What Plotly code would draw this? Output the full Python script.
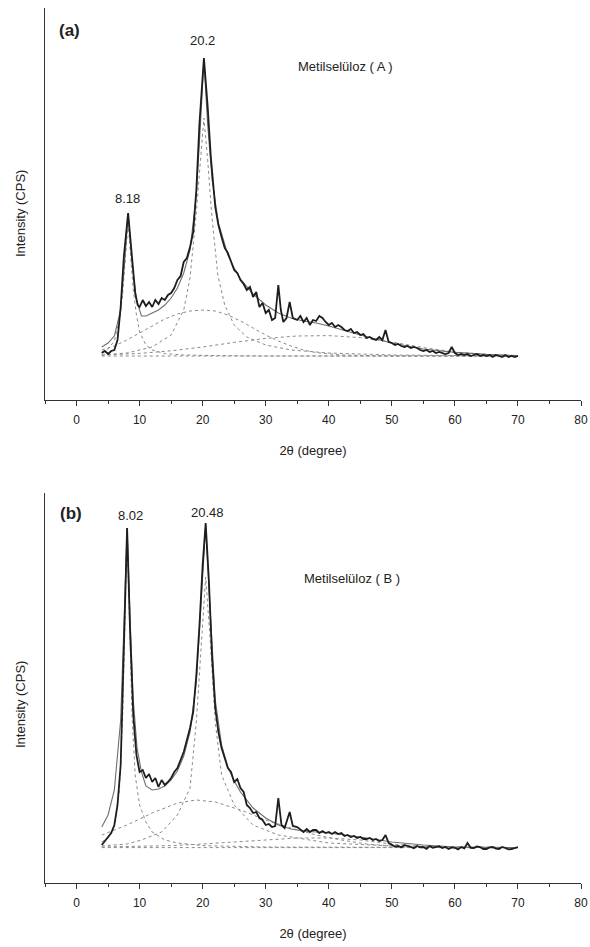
import plotly.graph_objects as go

# ---- panel (a): Metilselüloz (A) -------------------------------------------
a_x = [4, 4.5, 5, 5.5, 6, 6.5, 7, 7.5, 8.18, 8.8, 9.3, 9.7, 10, 10.5, 11, 11.5, 12, 12.5, 13, 13.5,
       14, 14.5, 15, 15.5, 16, 16.5, 17, 17.5, 18, 18.5, 19, 19.5, 20.2, 20.8, 21.3, 22, 22.5, 23, 23.5,
       24, 24.5, 25, 25.5, 26, 26.5, 27, 27.5, 28, 28.5, 29, 29.5, 30, 30.5, 31, 31.5, 32, 32.4, 32.8,
       33.3, 33.8, 34.3, 35, 35.5, 36, 36.5, 37, 37.5, 38, 38.5, 39, 39.5, 40, 40.5, 41, 41.5, 42, 42.5,
       43, 43.5, 44, 44.5, 45, 45.5, 46, 46.5, 47, 47.5, 48, 48.5, 49, 49.5, 50, 50.5, 51, 51.5, 52,
       52.5, 53, 53.5, 54, 54.5, 55, 55.5, 56, 56.5, 57, 57.5, 58, 58.5, 59, 59.5, 60, 60.5, 61, 61.5,
       62, 62.5, 63, 63.5, 64, 64.5, 65, 65.5, 66, 66.5, 67, 67.5, 68, 68.5, 69, 69.5, 70]
a_obs = [235, 245, 230, 245, 250, 300, 465, 715, 935, 715, 535, 475, 465, 500, 470, 490, 465, 500, 480, 510,
         500, 525, 535, 560, 600, 620, 690, 710, 765, 840, 1050, 1385, 1710, 1465, 1215, 965, 875, 815, 760,
         735, 690, 650, 635, 600, 580, 550, 565, 515, 540, 465, 485, 435, 450, 400, 410, 575, 450, 390,
         410, 490, 410, 400, 420, 390, 410, 375, 400, 395, 420, 410, 390, 375, 385, 365, 375, 365, 350,
         345, 355, 335, 340, 325, 330, 310, 315, 305, 300, 315, 300, 350, 290, 285, 275, 280, 270, 265,
         270, 260, 265, 260, 250, 245, 250, 240, 245, 235, 240, 235, 230, 235, 265, 235, 225, 230, 225,
         230, 220, 225, 230, 220, 225, 220, 225, 215, 225, 220, 215, 225, 215, 220, 215, 220]

a_fit_x = [4, 5, 6, 7, 7.6, 8.18, 8.8, 9.5, 10.3, 11, 12, 13, 14, 15, 16, 17, 18, 19, 19.6, 20.2, 20.8,
           21.5, 22.5, 24, 25, 26, 28, 30, 32, 34, 36, 38, 40, 45, 50, 55, 60, 65, 70]
a_fit = [265, 285, 320, 450, 675, 930, 690, 500, 420, 420, 435, 450, 475, 510, 560, 635, 750, 1025, 1350,
         1700, 1375, 1100, 885, 725, 660, 605, 530, 475, 435, 410, 395, 385, 370, 325, 285, 255, 238, 228, 222]

a_p1_x = [4, 5, 6, 6.8, 7.3, 7.7, 8.18, 8.6, 9.0, 9.5, 10, 11, 12, 14, 17, 22, 30, 70]
a_p1 = [240, 255, 295, 400, 525, 710, 890, 710, 550, 425, 340, 275, 250, 232, 225, 222, 220, 220]

a_p2_x = [4, 8, 12, 15, 17, 18, 19, 19.6, 20.2, 20.8, 21.4, 22.4, 23.5, 25, 27, 30, 34, 40, 50, 70]
a_p2 = [225, 235, 265, 325, 450, 610, 940, 1200, 1410, 1200, 940, 625, 475, 375, 315, 275, 250, 235, 225, 220]

a_b1_x = [4, 6, 8, 10, 12, 14, 16, 18, 20, 22, 24, 26, 28, 30, 32, 34, 36, 38, 42, 50, 70]
a_b1 = [250, 270, 300, 335, 370, 405, 430, 445, 450, 445, 425, 395, 360, 325, 295, 270, 250, 237, 225, 220, 220]

a_b2_x = [4, 10, 15, 20, 25, 30, 35, 40, 45, 50, 55, 60, 65, 70]
a_b2 = [225, 233, 246, 265, 288, 308, 320, 322, 312, 290, 262, 240, 228, 220]

a_base_x = [4, 70]
a_base = [220, 220]

# ---- panel (b): Metilselüloz (B) -------------------------------------------
b_x = [4, 4.5, 5, 5.5, 6, 6.5, 7, 7.5, 8.02, 8.5, 9, 9.5, 10, 10.5, 11, 11.5, 12, 12.5, 13, 13.5,
       14, 14.5, 15, 15.5, 16, 16.5, 17, 17.5, 18, 18.5, 19, 19.5, 20, 20.48, 21, 21.5, 22, 22.5, 23,
       23.5, 24, 24.5, 25, 25.5, 26, 26.5, 27, 27.5, 28, 28.5, 29, 29.5, 30, 30.5, 31, 31.5, 32, 32.5,
       33, 33.8, 34.3, 35, 35.5, 36, 36.5, 37, 37.5, 38, 38.5, 39, 39.5, 40, 40.5, 41, 41.5, 42, 42.5,
       43, 43.5, 44, 44.5, 45, 45.5, 46, 46.5, 47, 47.5, 48, 48.5, 49, 49.5, 50, 50.5, 51, 51.5, 52,
       52.5, 53, 53.5, 54, 54.5, 55, 55.5, 56, 56.5, 57, 57.5, 58, 58.5, 59, 59.5, 60, 60.5, 61, 61.5,
       62, 62.5, 63, 63.5, 64, 64.5, 65, 65.5, 66, 66.5, 67, 67.5, 68, 68.5, 69, 69.5, 70]
b_obs = [190, 210, 230, 250, 290, 390, 590, 1175, 1775, 1255, 840, 640, 555, 565, 525, 545, 505, 525, 480, 515,
         490, 505, 525, 555, 575, 615, 655, 715, 775, 855, 1040, 1290, 1590, 1800, 1505, 1125, 875, 755, 675,
         625, 575, 555, 505, 520, 475, 455, 390, 375, 350, 355, 325, 315, 290, 295, 280, 285, 425, 290,
         275, 355, 285, 280, 265, 255, 270, 255, 265, 265, 250, 260, 250, 255, 245, 255, 245, 250, 235,
         240, 230, 235, 225, 230, 220, 220, 225, 215, 220, 210, 215, 240, 200, 190, 182, 185, 178, 190,
         183, 180, 174, 185, 178, 180, 171, 185, 176, 180, 184, 175, 180, 170, 178, 176, 168, 180, 173,
         200, 176, 175, 183, 180, 170, 170, 178, 180, 172, 170, 180, 175, 168, 170, 177, 180]

b_fit_x = [4, 5, 6, 7, 7.6, 8.02, 8.5, 9, 9.6, 10.3, 11, 12, 13, 14, 15, 16, 17, 18, 19, 19.8, 20.48,
           21.1, 22, 23, 24, 25, 26, 28, 30, 32, 34, 36, 40, 45, 50, 55, 60, 70]
b_fit = [280, 340, 465, 815, 1365, 1775, 1315, 915, 675, 555, 485, 465, 470, 485, 515, 560, 635, 755, 1005,
         1415, 1785, 1415, 915, 690, 580, 510, 455, 375, 325, 290, 270, 260, 250, 230, 205, 190, 180, 177]

b_p1_x = [4, 5, 6, 6.8, 7.3, 7.7, 8.02, 8.4, 8.8, 9.3, 10, 11, 12, 14, 16, 20, 30, 70]
b_p1 = [205, 225, 285, 465, 815, 1315, 1755, 1315, 840, 540, 390, 305, 255, 215, 200, 187, 180, 177]

b_p2_x = [4, 8, 10.3, 13.5, 16, 18, 19, 19.8, 20.48, 21.2, 22, 23, 25, 28, 32, 40, 50, 70]
b_p2 = [185, 195, 215, 255, 340, 475, 805, 1215, 1530, 1215, 805, 540, 390, 290, 240, 200, 185, 177]

b_b1_x = [4, 8, 12, 16, 19, 22, 26, 30, 34, 38, 42, 46, 50, 55, 70]
b_b1 = [240, 290, 350, 400, 415, 405, 365, 315, 275, 240, 215, 195, 185, 180, 177]

b_b2_x = [4, 10, 15, 20, 25, 30, 35, 40, 45, 50, 55, 60, 70]
b_b2 = [180, 182, 187, 195, 205, 215, 225, 225, 215, 195, 182, 177, 177]

b_base_x = [4, 70]
b_base = [177, 177]

FONT = "Liberation Sans, Arial, sans-serif"
DARK = "#1e1e1e"
FIT = "#6e6e6e"
COMP = "#8a8a8a"

fig = go.Figure()


def add_panel(xa, ya, obs_x, obs, fit_x, fit, comps):
    # dotted component peaks + baseline, then fitted envelope, then measured pattern
    for cx, cy in comps:
        fig.add_trace(go.Scatter(x=cx, y=cy, mode="lines", xaxis=xa, yaxis=ya,
                                 line=dict(color=COMP, width=1, dash="dot")))
    fig.add_trace(go.Scatter(x=fit_x, y=fit, mode="lines", xaxis=xa, yaxis=ya,
                             line=dict(color=FIT, width=1.1)))
    fig.add_trace(go.Scatter(x=obs_x, y=obs, mode="lines", xaxis=xa, yaxis=ya,
                             line=dict(color=DARK, width=1.8)))


add_panel("x", "y", a_x, a_obs, a_fit_x, a_fit,
          [(a_p1_x, a_p1), (a_p2_x, a_p2), (a_b1_x, a_b1), (a_b2_x, a_b2), (a_base_x, a_base)])
add_panel("x2", "y2", b_x, b_obs, b_fit_x, b_fit,
          [(b_p1_x, b_p1), (b_p2_x, b_p2), (b_b1_x, b_b1), (b_b2_x, b_b2), (b_base_x, b_base)])

xaxis_style = dict(range=[-5, 80], dtick=10, tick0=0, showline=True, linecolor="#333", linewidth=1,
                   ticks="outside", ticklen=5, tickcolor="#333", ticklabelstandoff=4,
                   ticklabeloverflow="allow", automargin=False,
                   minor=dict(dtick=5, ticks="outside", ticklen=3, tickcolor="#333"),
                   showgrid=False, zeroline=False, tickfont=dict(size=12, color="#222", family=FONT),
                   title=dict(text="2θ (degree)", font=dict(size=13, color="#222", family=FONT), standoff=19))
yaxis_style = dict(showline=True, linecolor="#333", linewidth=1, ticks="", showticklabels=False,
                   showgrid=False, zeroline=False, automargin=False)

fig.update_layout(
    width=590, height=947,
    margin=dict(l=45, r=9, t=8, b=64, autoexpand=False),
    paper_bgcolor="white", plot_bgcolor="white",
    showlegend=False,
    font=dict(family=FONT, color="#222"),
    xaxis=dict(xaxis_style, domain=[0, 1], anchor="y"),
    yaxis=dict(yaxis_style, domain=[0.552, 1], range=[0, 1960], anchor="x"),
    xaxis2=dict(xaxis_style, domain=[0, 1], anchor="y2"),
    yaxis2=dict(yaxis_style, domain=[0, 0.4457], range=[0, 1950], anchor="x2"),
)

notes = [
    ("x", "y", -1.1, 1850, "<b>(a)</b>", 17, "center"),
    ("x", "y", 20.0, 1800, "20.2", 13, "center"),
    ("x", "y", 8.1, 1010, "8.18", 13, "center"),
    ("x", "y", 34.8, 1670, "Metilselüloz ( A )", 13, "left"),
    ("x2", "y2", -0.8, 1850, "<b>(b)</b>", 17, "center"),
    ("x2", "y2", 8.6, 1840, "8.02", 13, "center"),
    ("x2", "y2", 20.8, 1855, "20.48", 13, "center"),
    ("x2", "y2", 35.7, 1525, "Metilselüloz ( B )", 13, "left"),
]
for xr, yr, x, y, text, size, anchor in notes:
    fig.add_annotation(xref=xr, yref=yr, x=x, y=y, text=text, showarrow=False, xanchor=anchor,
                       yanchor="middle", font=dict(size=size, color="#222", family=FONT))

# rotated y titles
for yr, y in [("y", 930), ("y2", 890)]:
    fig.add_annotation(xref="paper", yref=yr, x=0, xshift=-25, y=y, text="Intensity (CPS)",
                       xanchor="center", yanchor="middle", textangle=-90, showarrow=False,
                       font=dict(size=13, color="#222", family=FONT))

# drop the default page margin so the figure sits at the window's top-left corner
fig.write_html("out.html", config={"displayModeBar": False, "responsive": False},
               post_script="document.body.style.margin='0';")
